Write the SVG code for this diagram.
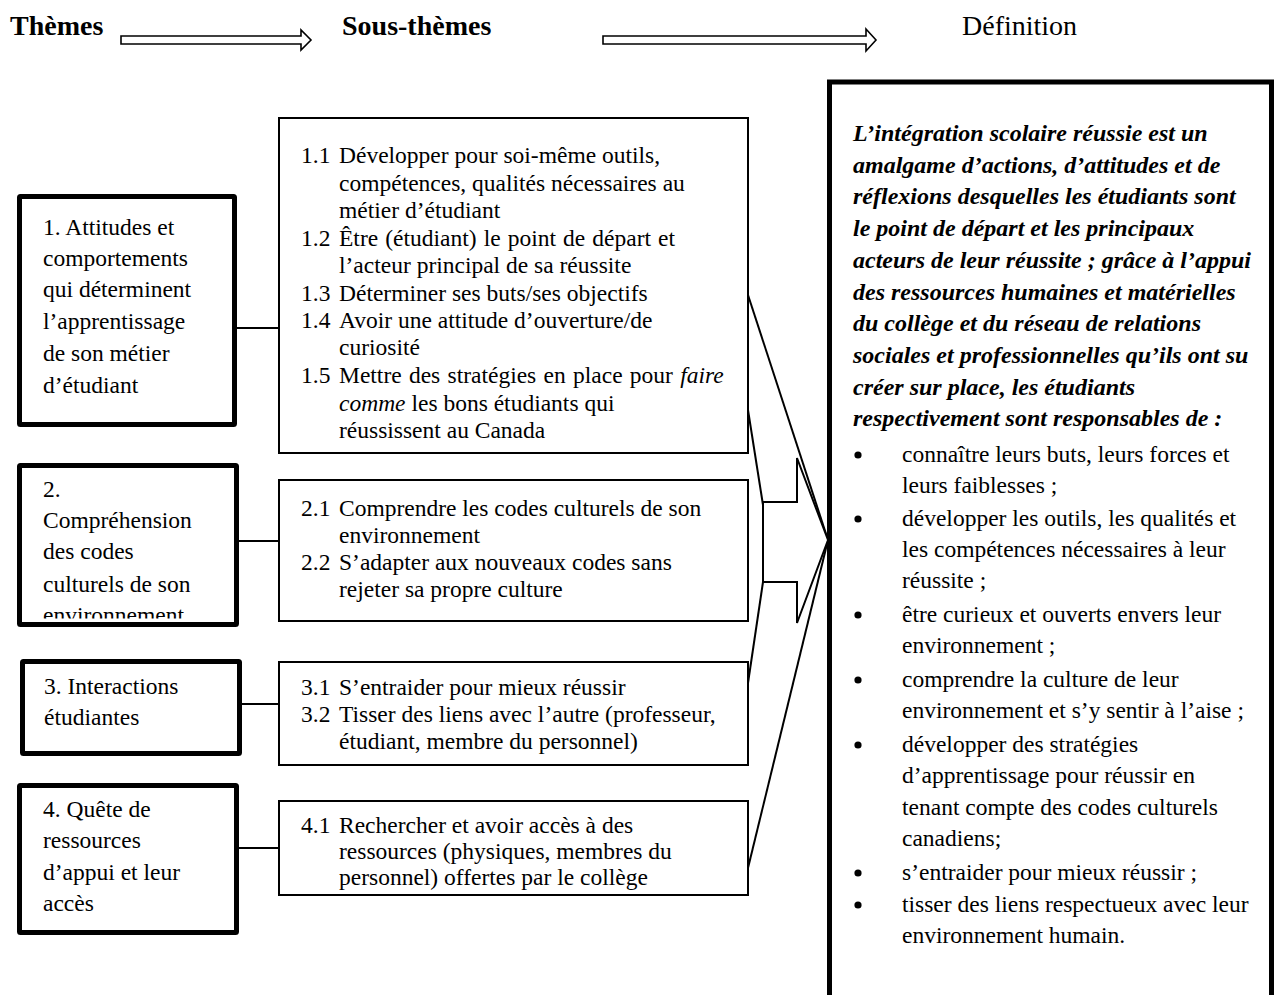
<svg xmlns="http://www.w3.org/2000/svg" width="1278" height="995" viewBox="0 0 1278 995">
<style>
.t{font-family:"Liberation Serif","Times New Roman",serif;font-size:23.5px;fill:#000}
.bi{font-weight:bold;font-style:italic;font-size:24px}
.h{font-size:28px}
.hb{font-weight:bold}
.it{font-style:italic}
.thick{fill:#fff;stroke:#000;stroke-width:5}
.thin{fill:#fff;stroke:#000;stroke-width:2}
.ln{stroke:#000;stroke-width:2;fill:none}
.harrow{fill:#fff;stroke:#000;stroke-width:1.6}
</style>
<defs>
<clipPath id="clip2"><rect x="22" y="468" width="212" height="150.5"/></clipPath>
</defs>
<rect width="1278" height="995" fill="#fff"/>

<g id="header">
<text class="t h hb" x="10" y="35">Thèmes</text>
<polygon class="harrow" points="121,36 301,36 301,30 311,40 301,50 301,44 121,44"/>
<text class="t h hb" x="342" y="35">Sous-thèmes</text>
<polygon class="harrow" points="603,36 866,36 866,29 876,40 866,51 866,44 603,44"/>
<text class="t h" x="962" y="35">Définition</text>
</g>

<g id="connectors">
<line class="ln" x1="237" y1="328" x2="279" y2="328"/>
<line class="ln" x1="239" y1="541" x2="279" y2="541"/>
<line class="ln" x1="242" y1="704" x2="279" y2="704"/>
<line class="ln" x1="239" y1="848" x2="279" y2="848"/>
<line class="ln" x1="748" y1="295" x2="828" y2="540"/>
<line class="ln" x1="748" y1="410" x2="763" y2="505"/>
<line class="ln" x1="763" y1="582" x2="748" y2="683"/>
<line class="ln" x1="828" y1="540" x2="748" y2="868"/>
<polygon class="thin" points="763,502 797,502 797,458 828,540 797,623 797,582 763,582"/>
</g>

<g id="theme1">
<rect class="thick" x="19.5" y="196.5" width="215" height="228" rx="1"/>
<text class="t" x="43" y="235">1. Attitudes et</text>
<text class="t" x="43" y="266">comportements</text>
<text class="t" x="43" y="297">qui déterminent</text>
<text class="t" x="43" y="329">l’apprentissage</text>
<text class="t" x="43" y="361">de son métier</text>
<text class="t" x="43" y="393">d’étudiant</text>
</g>

<g id="theme2">
<rect class="thick" x="19.5" y="465.5" width="217" height="159" rx="1"/>
<g clip-path="url(#clip2)">
<text class="t" x="43" y="497">2.</text>
<text class="t" x="43" y="528">Compréhension</text>
<text class="t" x="43" y="559">des codes</text>
<text class="t" x="43" y="592">culturels de son</text>
<text class="t" x="43" y="623">environnement</text>
</g>
</g>

<g id="theme3">
<rect class="thick" x="22.5" y="661.5" width="217" height="92" rx="1"/>
<text class="t" x="44" y="694">3. Interactions</text>
<text class="t" x="44" y="725">étudiantes</text>
</g>

<g id="theme4">
<rect class="thick" x="19.5" y="785.5" width="217" height="147" rx="1"/>
<text class="t" x="43" y="817">4. Quête de</text>
<text class="t" x="43" y="848">ressources</text>
<text class="t" x="43" y="880">d’appui et leur</text>
<text class="t" x="43" y="911">accès</text>
</g>

<g id="sub1">
<rect class="thin" x="279" y="118" width="469" height="335"/>
<text class="t" x="301" y="163">1.1</text><text class="t" x="339" y="163">Développer pour soi-même outils,</text>
<text class="t" x="339" y="190.5">compétences, qualités nécessaires au</text>
<text class="t" x="339" y="218">métier d’étudiant</text>
<text class="t" x="301" y="245.5">1.2</text><text class="t" x="339" y="245.5" word-spacing="1.2">Être (étudiant) le point de départ et</text>
<text class="t" x="339" y="273">l’acteur principal de sa réussite</text>
<text class="t" x="301" y="300.5">1.3</text><text class="t" x="339" y="300.5">Déterminer ses buts/ses objectifs</text>
<text class="t" x="301" y="328">1.4</text><text class="t" x="339" y="328">Avoir une attitude d’ouverture/de</text>
<text class="t" x="339" y="355">curiosité</text>
<text class="t" x="301" y="383">1.5</text><text class="t" x="339" y="383" word-spacing="1.4">Mettre des stratégies en place pour <tspan class="it">faire</tspan></text>
<text class="t" x="339" y="410.5"><tspan class="it">comme</tspan> les bons étudiants qui</text>
<text class="t" x="339" y="438">réussissent au Canada</text>
</g>

<g id="sub2">
<rect class="thin" x="279" y="480" width="469" height="141"/>
<text class="t" x="301" y="516">2.1</text><text class="t" x="339" y="516">Comprendre les codes culturels de son</text>
<text class="t" x="339" y="543">environnement</text>
<text class="t" x="301" y="570">2.2</text><text class="t" x="339" y="570">S’adapter aux nouveaux codes sans</text>
<text class="t" x="339" y="597">rejeter sa propre culture</text>
</g>

<g id="sub3">
<rect class="thin" x="279" y="662" width="469" height="103"/>
<text class="t" x="301" y="695">3.1</text><text class="t" x="339" y="695">S’entraider pour mieux réussir</text>
<text class="t" x="301" y="722">3.2</text><text class="t" x="339" y="722">Tisser des liens avec l’autre (professeur,</text>
<text class="t" x="339" y="749">étudiant, membre du personnel)</text>
</g>

<g id="sub4">
<rect class="thin" x="279" y="801" width="469" height="94"/>
<text class="t" x="301" y="833">4.1</text><text class="t" x="339" y="833">Rechercher et avoir accès à des</text>
<text class="t" x="339" y="859">ressources (physiques, membres du</text>
<text class="t" x="339" y="885">personnel) offertes par le collège</text>
</g>

<g id="definition">
<rect class="thick" x="829.5" y="82" width="442" height="930"/>
<text class="t bi" x="853" y="141">L’intégration scolaire réussie est un</text>
<text class="t bi" x="853" y="172.7">amalgame d’actions, d’attitudes et de</text>
<text class="t bi" x="853" y="204.4">réflexions desquelles les étudiants sont</text>
<text class="t bi" x="853" y="236.1">le point de départ et les principaux</text>
<text class="t bi" x="853" y="267.8">acteurs de leur réussite ; grâce à l’appui</text>
<text class="t bi" x="853" y="299.5">des ressources humaines et matérielles</text>
<text class="t bi" x="853" y="331.2">du collège et du réseau de relations</text>
<text class="t bi" x="853" y="362.9">sociales et professionnelles qu’ils ont su</text>
<text class="t bi" x="853" y="394.6">créer sur place, les étudiants</text>
<text class="t bi" x="853" y="426.3">respectivement sont responsables de :</text>
<circle cx="858" cy="455" r="3.6"/>
<text class="t" x="902" y="462">connaître leurs buts, leurs forces et</text>
<text class="t" x="902" y="493">leurs faiblesses ;</text>
<circle cx="858" cy="519" r="3.6"/>
<text class="t" x="902" y="526">développer les outils, les qualités et</text>
<text class="t" x="902" y="557">les compétences nécessaires à leur</text>
<text class="t" x="902" y="588">réussite ;</text>
<circle cx="858" cy="615" r="3.6"/>
<text class="t" x="902" y="622">être curieux et ouverts envers leur</text>
<text class="t" x="902" y="653">environnement ;</text>
<circle cx="858" cy="680" r="3.6"/>
<text class="t" x="902" y="687">comprendre la culture de leur</text>
<text class="t" x="902" y="718">environnement et s’y sentir à l’aise ;</text>
<circle cx="858" cy="745" r="3.6"/>
<text class="t" x="902" y="752">développer des stratégies</text>
<text class="t" x="902" y="783">d’apprentissage pour réussir en</text>
<text class="t" x="902" y="815">tenant compte des codes culturels</text>
<text class="t" x="902" y="846">canadiens;</text>
<circle cx="858" cy="873" r="3.6"/>
<text class="t" x="902" y="880">s’entraider pour mieux réussir ;</text>
<circle cx="858" cy="905" r="3.6"/>
<text class="t" x="902" y="912">tisser des liens respectueux avec leur</text>
<text class="t" x="902" y="943">environnement humain.</text>
</g>
</svg>
